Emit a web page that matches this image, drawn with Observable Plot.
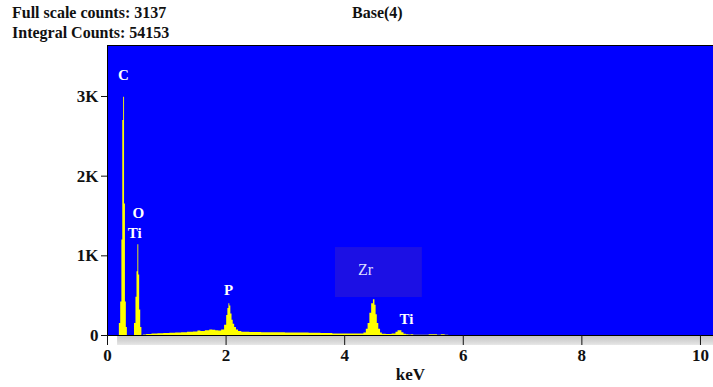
<!DOCTYPE html>
<html>
<head>
<meta charset="utf-8">
<script src="https://cdn.jsdelivr.net/npm/d3@7"></script>
<script src="https://cdn.jsdelivr.net/npm/@observablehq/plot@0.6"></script>
<style>
  body { margin: 0; background: white; font-family: "Liberation Serif", serif; }
  #wrap { width: 713px; }
  #header { position: relative; height: 44px; font-weight: bold; font-size: 16px; color: #111; }
  #header span { position: absolute; white-space: nowrap; }
</style>
</head>
<body>
<div id="wrap">
  <div id="header">
    <span style="left:12px; top:4px;">Full scale counts: 3137</span>
    <span style="left:352px; top:4px;">Base(4)</span>
    <span style="left:12px; top:24px;">Integral Counts: 54153</span>
  </div>
  <div id="chart"></div>
</div>
<script>
// Spectrum (energy in keV, counts)
const energy = [0, 0.19, 0.21, 0.235, 0.25, 0.265, 0.28, 0.295, 0.31, 0.325, 0.345, 0.44, 0.47, 0.49, 0.505, 0.52, 0.535, 0.55, 0.57, 0.59, 0.62,
  0.70, 0.80, 0.90, 1.00, 1.10, 1.20, 1.30, 1.40, 1.50, 1.55, 1.60, 1.70, 1.75, 1.80, 1.85, 1.90, 1.95,
  2.00, 2.02, 2.04, 2.055, 2.07, 2.09, 2.11, 2.13, 2.16, 2.19, 2.23,
  2.30, 2.50, 2.70, 2.90, 3.10, 3.30, 3.50, 3.70, 3.90, 4.10, 4.30,
  4.35, 4.38, 4.41, 4.44, 4.47, 4.50, 4.52, 4.54, 4.56, 4.59, 4.62, 4.65,
  4.75, 4.85, 4.88, 4.92, 4.95, 4.98, 5.02, 5.06, 5.10, 5.15, 5.18, 5.30, 5.55, 5.58, 5.68, 5.71, 5.80, 10.22];
const counts = [0, 0, 150, 420, 1200, 2700, 2990, 1650, 420, 100, 0, 0, 150, 480, 800, 1140, 760, 320, 100, 0, 5,
  12, 20, 22, 25, 28, 30, 35, 40, 45, 55, 50, 60, 70, 65, 60, 55, 70,
  130, 250, 340, 400, 370, 270, 190, 140, 100, 70, 50,
  40, 38, 35, 35, 32, 30, 28, 25, 20, 18, 20,
  30, 80, 150, 280, 400, 450, 380, 260, 150, 80, 30, 15,
  12, 20, 40, 60, 60, 35, 15, 10, 5, 10, 4, 2, 8, 2, 8, 2, 0, 0];

// Peak labels
const peakNames = ["C", "O", "Ti", "P", "Ti"];
const peakEnergy = [0.27, 0.52, 0.46, 2.04, 5.04];
const peakCounts = [3263, 1531, 1280, 565, 200];

// Highlighted element box
const boxName = ["Zr"];
const boxEnergy = [3.845, 5.31];
const boxCounts = [477, 1104];

const xTicks = [0, 2, 4, 6, 8, 10];
const yTicks = [0, 1000, 2000, 3000];

const spectrum = energy.map((e, i) => ({e, c: counts[i]}));
const peaks = peakNames.map((n, i) => ({n, e: peakEnergy[i], c: peakCounts[i]}));

const plot = Plot.plot({
  width: 713,
  height: 343,
  marginTop: 1,
  marginLeft: 107,
  marginRight: 0,
  marginBottom: 52,
  x: {domain: [0, 10.22]},
  y: {domain: [0, 3640]},
  style: {fontFamily: "Liberation Serif, serif", fontSize: "17px", fontWeight: "bold", color: "#111", background: "white", overflow: "visible"},
  marks: [
    Plot.frame({fill: "#0000ff", stroke: "none"}),
    Plot.rect([0], {x1: 0.17, x2: 10.22, y1: 0, y2: -125, fill: "url(#stripGrad)"}),
    Plot.rect(boxName, {x1: boxEnergy[0], x2: boxEnergy[1], y1: boxCounts[0], y2: boxCounts[1], fill: "#1c10e4"}),
    Plot.text(boxName, {x: 4.35, y: 828, text: d => d, fill: "#dcdcff", fontWeight: "normal", fontSize: 16}),
    Plot.areaY(spectrum, {x: "e", y: "c", curve: "step", fill: "#ffff00"}),
    Plot.text(peaks, {x: "e", y: "c", text: "n", fill: "white", fontSize: 15}),
    Plot.ruleY([3640], {stroke: "black"}),
    Plot.ruleY([0], {stroke: "black"}),
    Plot.ruleX([0], {y1: -125, y2: 3640, stroke: "black"}),
    Plot.axisY({ticks: yTicks, tickSize: 6, tickPadding: 3, tickFormat: d => d === 0 ? "0" : (d / 1000) + "K", label: null}),
    Plot.axisX({ticks: xTicks, tickSize: 10, tickPadding: 3, tickFormat: d => String(d), label: "keV", labelAnchor: "center", labelArrow: "none", labelOffset: 44})
  ]
});

plot.insertAdjacentHTML("afterbegin",
  '<defs><linearGradient id="stripGrad" x1="0" y1="0" x2="0" y2="1">' +
  '<stop offset="0" stop-color="#c4c4c4"/><stop offset="0.6" stop-color="#d6d6d6"/><stop offset="1" stop-color="#e6e6e6"/>' +
  '</linearGradient></defs>');

document.getElementById("chart").appendChild(plot);
</script>
</body>
</html>
